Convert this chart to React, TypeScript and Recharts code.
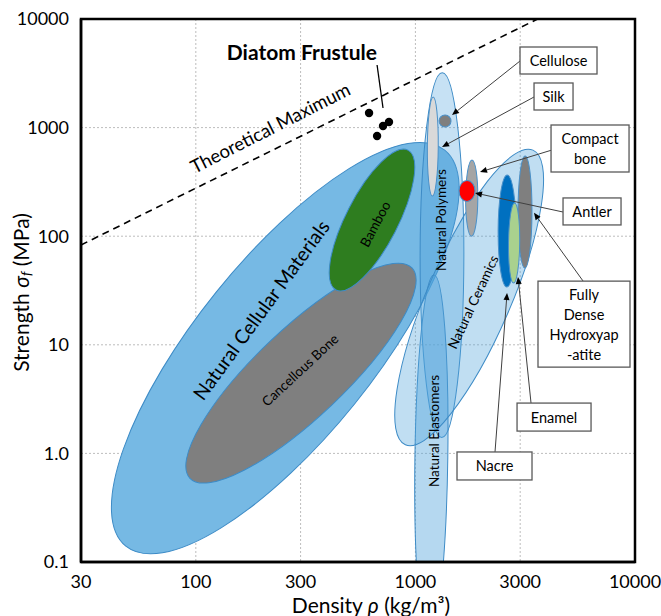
import React from 'react';
import {
  ScatterChart,
  Scatter,
  XAxis,
  YAxis,
  CartesianGrid,
  ReferenceArea,
  ReferenceLine,
  ReferenceDot,
} from 'recharts';

if (typeof document !== 'undefined') document.body.style.margin = '0';

const FONT = 'Lato, "Open Sans", sans-serif';

// axes (log-log)
const DENSITY_DOMAIN = [30, 10000];
const STRENGTH_DOMAIN = [0.1, 10000];
const DENSITY_TICKS = [30, 100, 300, 1000, 3000, 10000];
const STRENGTH_TICKS = [0.1, 1, 10, 100, 1000, 10000];

// property envelopes: major axis runs from (low density, low strength) to (high density, high strength)
const ENVELOPES = [
  'Natural Cellular Materials',
  'Cancellous Bone',
  'Bamboo',
  'Natural Polymers',
  'Natural Elastomers',
  'Natural Ceramics',
  'Silk',
  'Cellulose',
  'Compact bone',
  'Antler',
  'Nacre',
  'Hydroxyapatite',
  'Enamel',
];
const LOW_DENSITY = [48, 94, 435, 1318, 1150, 900, 1195, 1362, 1800, 1716, 2610, 3150, 2800];
const LOW_STRENGTH = [0.14, 0.59, 32, 1.4, 0.019, 1.2, 234, 1013, 100, 209, 34, 51, 37];
const HIGH_DENSITY = [1360, 965, 925, 1325, 1215, 3430, 1205, 1366, 1810, 1720, 2620, 3160, 2830];
const HIGH_STRENGTH = [620, 51, 620, 3200, 44, 620, 1910, 1306, 503, 326, 366, 548, 202];
const WIDTH_RATIO = [0.35, 0.29, 0.33, 0.12, 0.09, 0.26, 0.11, 1, 0.16, 0.76, 0.16, 0.125, 0.14];

// diatom frustule measurements
const DIATOM_DENSITY = [615, 712, 758, 669];
const DIATOM_STRENGTH = [1363, 1034, 1126, 837];

// theoretical maximum (strength proportional to density)
const THEORY_DENSITY = [30, 3600];
const THEORY_STRENGTH = [83, 10000];

// text placed inside the plot
const REGION_LABELS = [
  'Natural Cellular Materials',
  'Cancellous Bone',
  'Bamboo',
  'Natural Polymers',
  'Natural Ceramics',
  'Natural Elastomers',
  'Theoretical Maximum',
];
const LABEL_DENSITY = [198, 298, 655, 1308, 1829, 1215, 218];
const LABEL_STRENGTH = [21, 5.86, 129.5, 141, 24.8, 1.61, 1000];

// callout boxes and their arrows
const CALLOUTS = ['Cellulose', 'Silk', 'Compact\nbone', 'Antler', 'Fully\nDense\nHydroxyap\n-atite', 'Enamel', 'Nacre'];
const BOX_DENSITY = [4484, 4256, 6241, 6373, 5858, 4279, 2292];
const BOX_STRENGTH = [4148, 1934, 642, 169, 15.5, 2.16, 0.766];
const ARROW_FROM_DENSITY = [2995, 3468, 4190, 4701, 5798, 3361, 2304];
const ARROW_FROM_STRENGTH = [4104, 1913, 622, 167, 38.7, 2.91, 1.03];
const ARROW_TO_DENSITY = [1468, 1322, 1969, 1868, 3468, 2933, 2614];
const ARROW_TO_STRENGTH = [1306, 663, 390, 250, 164, 42.1, 30];

const DIATOM_LABEL = 'Diatom Frustule';
const DIATOM_LABEL_AT = [304, 4968];
const DIATOM_POINTER_DENSITY = [669, 712];
const DIATOM_POINTER_STRENGTH = [3771, 1515];

const BLUE_EDGE = '#3D8BC6';
const ENVELOPE_STYLE: Record<string, { fill: string; opacity: number; stroke: string }> = {
  'Natural Cellular Materials': { fill: '#76B9E4', opacity: 1, stroke: BLUE_EDGE },
  'Cancellous Bone': { fill: '#7F7F7F', opacity: 1, stroke: BLUE_EDGE },
  Bamboo: { fill: '#2E7D1F', opacity: 1, stroke: BLUE_EDGE },
  'Natural Polymers': { fill: '#4FA3DC', opacity: 0.32, stroke: BLUE_EDGE },
  'Natural Elastomers': { fill: '#4FA3DC', opacity: 0.42, stroke: BLUE_EDGE },
  'Natural Ceramics': { fill: '#4FA3DC', opacity: 0.36, stroke: BLUE_EDGE },
  Silk: { fill: '#D9D9D9', opacity: 1, stroke: '#4A90C8' },
  Cellulose: { fill: '#7F7F7F', opacity: 1, stroke: '#4A90C8' },
  'Compact bone': { fill: '#A5A5A5', opacity: 1, stroke: '#4A90C8' },
  Antler: { fill: '#FF0000', opacity: 1, stroke: '#4A90C8' },
  Nacre: { fill: '#0070C0', opacity: 1, stroke: '#4A90C8' },
  Hydroxyapatite: { fill: '#7F7F7F', opacity: 1, stroke: '#4A90C8' },
  Enamel: { fill: '#A9D18E', opacity: 1, stroke: '#4A90C8' },
};

// angle (deg), font size
const LABEL_STYLE = [
  [-54, 19.5],
  [-43, 13.5],
  [-62, 13.5],
  [-90, 13.5],
  [-65, 13.5],
  [-90, 13.5],
  [-27, 18.5],
];

// box width, height (px)
const BOX_SIZE = [
  [77, 27],
  [39, 27],
  [78, 47],
  [58, 27],
  [92, 86],
  [74, 28],
  [75, 28],
];

const diatomData = DIATOM_DENSITY.map((x, i) => ({ x, y: DIATOM_STRENGTH[i] }));

// ReferenceArea hands us the pixel box spanned by the two ends of the major axis
function envelopeShape(name: string, ratio: number) {
  const st = ENVELOPE_STYLE[name];
  return (p: any) => {
    const { x, y, width, height } = p;
    if (x == null || y == null) return null;
    const ax = x;
    const ay = y + height;
    const bx = x + width;
    const by = y;
    const cx = (ax + bx) / 2;
    const cy = (ay + by) / 2;
    const a = Math.hypot(bx - ax, by - ay) / 2;
    const ang = (Math.atan2(by - ay, bx - ax) * 180) / Math.PI;
    return (
      <g clipPath={p.clipPath}>
        <ellipse
          cx={cx}
          cy={cy}
          rx={a}
          ry={a * ratio}
          transform={`rotate(${ang} ${cx} ${cy})`}
          fill={st.fill}
          fillOpacity={st.opacity}
          stroke={st.stroke}
          strokeWidth={1}
        />
      </g>
    );
  };
}

function labelShape(text: string, angle: number, size: number) {
  return (p: any) => (
    <text
      x={p.cx}
      y={p.cy}
      transform={`rotate(${angle} ${p.cx} ${p.cy})`}
      textAnchor="middle"
      dominantBaseline="central"
      fontFamily={FONT}
      fontSize={size}
      fill="#000"
    >
      {text}
    </text>
  );
}

function boxShape(text: string, w: number, h: number) {
  const lines = text.split('\n');
  const lh = 20;
  return (p: any) => (
    <g>
      <rect x={p.cx - w / 2} y={p.cy - h / 2} width={w} height={h} fill="#fff" stroke="#595959" strokeWidth={1.3} />
      {lines.map((ln, i) => (
        <text
          key={i}
          x={p.cx}
          y={p.cy + (i - (lines.length - 1) / 2) * lh}
          textAnchor="middle"
          dominantBaseline="central"
          fontFamily={FONT}
          fontSize={14.5}
          fill="#000"
        >
          {ln}
        </text>
      ))}
    </g>
  );
}

function arrowShape(p: any) {
  const { x1, y1, x2, y2 } = p;
  const dx = x2 - x1;
  const dy = y2 - y1;
  const len = Math.hypot(dx, dy) || 1;
  const ux = dx / len;
  const uy = dy / len;
  const hl = 7;
  const hw = 3;
  const bx = x2 - ux * hl;
  const by = y2 - uy * hl;
  return (
    <g>
      <line x1={x1} y1={y1} x2={bx} y2={by} stroke="#404040" strokeWidth={1} />
      <polygon
        points={`${x2},${y2} ${bx - uy * hw},${by + ux * hw} ${bx + uy * hw},${by - ux * hw}`}
        fill="#000"
      />
    </g>
  );
}

function XTitle(p: any) {
  const vb = p.viewBox;
  return (
    <text x={vb.x + vb.width / 2 + 13} y={604} textAnchor="middle" dominantBaseline="central" fontFamily={FONT} fontSize={21} fill="#000">
      Density <tspan fontStyle="italic">ρ</tspan> (kg/m³)
    </text>
  );
}

function YTitle(p: any) {
  const vb = p.viewBox;
  const cy = vb.y + vb.height / 2 + 2;
  return (
    <text x={20} y={cy} transform={`rotate(-90 20 ${cy})`} textAnchor="middle" dominantBaseline="central" fontFamily={FONT} fontSize={21} fill="#000">
      Strength <tspan fontStyle="italic">σ</tspan>
      <tspan fontStyle="italic" fontSize={14} dy={5}>f</tspan>
      <tspan dy={-5}> (MPa)</tspan>
    </text>
  );
}

export default function App() {
  return (
    <ScatterChart width={661} height={616} margin={{ top: 19, right: 26, bottom: 0, left: 0 }}>
      <CartesianGrid strokeDasharray="2 2" stroke="#BDBDBD" />
      <XAxis
        type="number"
        dataKey="x"
        scale="log"
        domain={DENSITY_DOMAIN}
        ticks={DENSITY_TICKS}
        interval={0}
        allowDataOverflow
        height={54}
        tickLine={false}
        tickMargin={7}
        axisLine={{ stroke: '#000', strokeWidth: 2.5 }}
        tick={{ fontSize: 18, fill: '#000', fontFamily: FONT }}
        label={(p: any) => <XTitle {...p} />}
      />
      <YAxis
        type="number"
        dataKey="y"
        scale="log"
        domain={STRENGTH_DOMAIN}
        ticks={STRENGTH_TICKS}
        interval={0}
        allowDataOverflow
        width={81}
        tickLine={false}
        tickMargin={6}
        axisLine={{ stroke: '#000', strokeWidth: 2.5 }}
        tick={{ fontSize: 18, fill: '#000', fontFamily: FONT }}
        tickFormatter={(v: number) => (v === 1 ? '1.0' : String(v))}
        label={(p: any) => <YTitle {...p} />}
      />

      {ENVELOPES.map((name, i) => (
        <ReferenceArea
          key={name}
          x1={LOW_DENSITY[i]}
          x2={HIGH_DENSITY[i]}
          y1={LOW_STRENGTH[i]}
          y2={HIGH_STRENGTH[i]}
          ifOverflow="hidden"
          shape={envelopeShape(name, WIDTH_RATIO[i])}
        />
      ))}

      <ReferenceArea
        x1={DENSITY_DOMAIN[0]}
        x2={DENSITY_DOMAIN[1]}
        y1={STRENGTH_DOMAIN[0]}
        y2={STRENGTH_DOMAIN[1]}
        ifOverflow="visible"
        fill="none"
        fillOpacity={0}
        stroke="#000"
        strokeWidth={2.5}
      />

      <ReferenceLine
        segment={[
          { x: THEORY_DENSITY[0], y: THEORY_STRENGTH[0] },
          { x: THEORY_DENSITY[1], y: THEORY_STRENGTH[1] },
        ]}
        ifOverflow="visible"
        stroke="#000"
        strokeWidth={1.6}
        strokeDasharray="7 5"
      />

      <ReferenceLine
        segment={[
          { x: DIATOM_POINTER_DENSITY[0], y: DIATOM_POINTER_STRENGTH[0] },
          { x: DIATOM_POINTER_DENSITY[1], y: DIATOM_POINTER_STRENGTH[1] },
        ]}
        ifOverflow="visible"
        stroke="#000"
        strokeWidth={1.3}
      />

      {CALLOUTS.map((c, i) => (
        <ReferenceLine
          key={'a' + i}
          segment={[
            { x: ARROW_FROM_DENSITY[i], y: ARROW_FROM_STRENGTH[i] },
            { x: ARROW_TO_DENSITY[i], y: ARROW_TO_STRENGTH[i] },
          ]}
          ifOverflow="visible"
          shape={arrowShape}
        />
      ))}

      {CALLOUTS.map((c, i) => (
        <ReferenceDot
          key={'b' + i}
          x={BOX_DENSITY[i]}
          y={BOX_STRENGTH[i]}
          ifOverflow="visible"
          shape={boxShape(c, BOX_SIZE[i][0], BOX_SIZE[i][1])}
        />
      ))}

      {REGION_LABELS.map((t, i) => (
        <ReferenceDot
          key={'l' + i}
          x={LABEL_DENSITY[i]}
          y={LABEL_STRENGTH[i]}
          ifOverflow="visible"
          shape={labelShape(t, LABEL_STYLE[i][0], LABEL_STYLE[i][1])}
        />
      ))}

      <ReferenceDot
        x={DIATOM_LABEL_AT[0]}
        y={DIATOM_LABEL_AT[1]}
        ifOverflow="visible"
        shape={(p: any) => (
          <text x={p.cx} y={p.cy} textAnchor="middle" dominantBaseline="central" fontFamily={FONT} fontWeight="bold" fontSize={21} fill="#000">
            {DIATOM_LABEL}
          </text>
        )}
      />

      <Scatter
        data={diatomData}
        isAnimationActive={false}
        shape={(p: any) => <circle cx={p.cx} cy={p.cy} r={4.2} fill="#000" />}
      />
    </ScatterChart>
  );
}
